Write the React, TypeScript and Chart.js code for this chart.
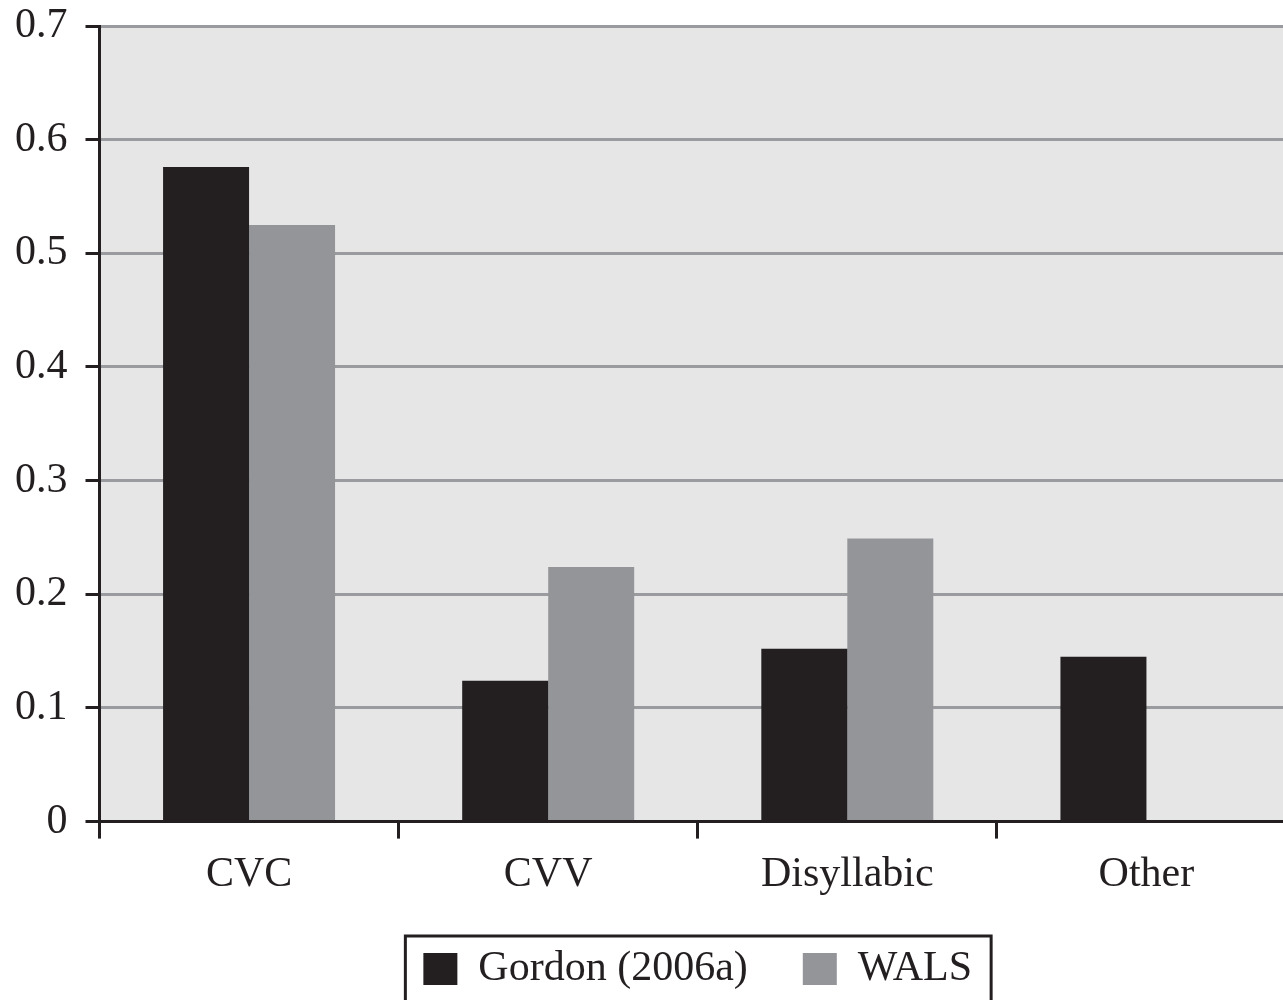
import React, { useEffect, useRef } from 'react';
import { Chart, registerables } from 'chart.js';

Chart.register(...registerables);

const categories = ['CVC', 'CVV', 'Disyllabic', 'Other'];
const seriesNames = ['Gordon (2006a)', 'WALS'];
const gordonValues = [0.576, 0.124, 0.152, 0.145];
const walsValues = [0.525, 0.224, 0.249, 0];
const yTickLabels = ['0', '0.1', '0.2', '0.3', '0.4', '0.5', '0.6', '0.7'];

const DARK = '#231f20';
const GREY = '#939598';
const GRID = '#9a9b9f';
const FONT = '"Liberation Serif", "DejaVu Serif", serif';
const X_AXIS_TRIM = 18;

const bgPlugin = {
  id: 'plotBg',
  afterLayout(chart: any) {
    const legend = chart.legend;
    if (legend) {
      legend.left = chart.chartArea.left;
      legend.right = chart.chartArea.right;
    }
    const x = chart.scales.x;
    if (x) {
      // give the label clip area back the room removed in afterFit
      x.bottom += X_AXIS_TRIM;
      x.height += X_AXIS_TRIM;
    }
  },
  beforeDraw(chart: any) {
    const { ctx, chartArea } = chart;
    ctx.save();
    ctx.fillStyle = '#e6e6e6';
    ctx.fillRect(chartArea.left, chartArea.top, chartArea.right - chartArea.left, chartArea.bottom - chartArea.top);
    ctx.restore();
  },
};

const legendBorderPlugin = {
  id: 'legendBorder',
  afterDraw(chart: any) {
    const legend = chart.legend;
    if (!legend || !legend.legendHitBoxes || !legend.legendHitBoxes.length) return;
    const boxes = legend.legendHitBoxes;
    const first = boxes[0];
    const last = boxes[boxes.length - 1];
    const left = first.left - 18;
    const right = last.left + last.width + 19;
    const top = first.top - 12;
    const { ctx } = chart;
    ctx.save();
    ctx.strokeStyle = DARK;
    ctx.lineWidth = 3;
    ctx.strokeRect(left, top, right - left, chart.height + 10 - top);
    ctx.restore();
  },
};

export default function App() {
  const ref = useRef<HTMLCanvasElement | null>(null);
  useEffect(() => {
    if (!ref.current) return;
    const chart = new Chart(ref.current, {
      type: 'bar',
      data: {
        labels: categories,
        datasets: [
          { label: seriesNames[0], data: gordonValues, backgroundColor: DARK, borderWidth: 0 },
          { label: seriesNames[1], data: walsValues, backgroundColor: GREY, borderWidth: 0 },
        ],
      },
      options: {
        responsive: false,
        animation: false,
        devicePixelRatio: 1,
        datasets: { bar: { categoryPercentage: 0.575, barPercentage: 1.0 } },
        layout: { padding: { left: -3, right: 100, top: 0, bottom: 0 } },
        plugins: {
          tooltip: { enabled: false },
          legend: {
            position: 'bottom',
            labels: {
              boxWidth: 34,
              boxHeight: 32,
              padding: 55,
              color: DARK,
              font: { family: FONT, size: 42 },
            },
          },
        },
        scales: {
          x: {
            border: { display: true, color: DARK, width: 3 },
            grid: {
              offset: true,
              drawOnChartArea: false,
              drawTicks: true,
              tickLength: 17,
              tickColor: DARK,
              tickWidth: 3,
              lineWidth: 3,
              color: DARK,
            },
            ticks: { color: DARK, padding: 11, font: { family: FONT, size: 42 } },
            afterFit: (s: any) => {
              s.height -= X_AXIS_TRIM;
            },
          },
          y: {
            min: 0,
            max: 0.7,
            border: { display: true, color: DARK, width: 3 },
            grid: {
              color: GRID,
              lineWidth: 3,
              drawTicks: true,
              tickLength: 14,
              tickColor: DARK,
              tickWidth: 3,
            },
            ticks: {
              stepSize: 0.1,
              color: DARK,
              padding: 18,
              font: { family: FONT, size: 42 },
              callback: (_v: any, i: number) => yTickLabels[i],
            },
            afterFit: (s: any) => {
              s.paddingTop = 26;
            },
          },
        },
      },
      plugins: [bgPlugin, legendBorderPlugin],
    });
    return () => chart.destroy();
  }, []);
  return (
    <div style={{ position: 'fixed', left: 0, top: 0, width: 1283, height: 1000, overflow: 'hidden', background: '#fff' }}>
      <canvas ref={ref} width={1396} height={1000} style={{ width: 1396, height: 1000, display: 'block' }} />
    </div>
  );
}
